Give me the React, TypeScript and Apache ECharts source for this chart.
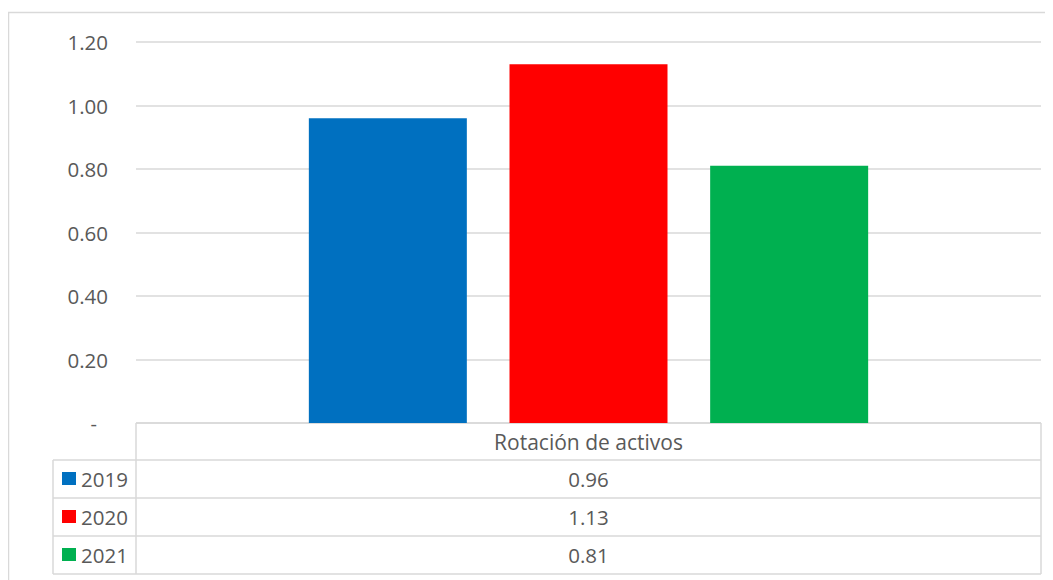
import React, { useEffect, useRef } from "react";
import * as echarts from "echarts";

const categories = ["Rotación de activos"];
const seriesNames = ["2019", "2020", "2021"];
const values2019 = [0.96];
const values2020 = [1.13];
const values2021 = [0.81];
const seriesValues = [values2019, values2020, values2021];
const seriesColors = ["#0070C0", "#FF0000", "#00B050"];
const yMin = 0;
const yMax = 1.2;
const yInterval = 0.2;

const FONT = "Open Sans";
const TEXT = "#595959";
const LINE = "#d9d9d9";

export default function App() {
  const ref = useRef<HTMLDivElement>(null);

  useEffect(() => {
    if (!ref.current) return;
    const chart = echarts.init(ref.current, undefined, { renderer: "svg" });

    const gridLeft = 128;
    const gridRight = 1033;
    const gridTop = 34;
    const gridBottom = 415;
    const legendLeft = 45;
    const rowH = 38;
    const headerH = 37;
    const lineStyle = { stroke: LINE, lineWidth: 1.5 };
    const tableFont = `20.5px "${FONT}"`;

    const graphics: any[] = [];
    graphics.push({
      type: "rect",
      shape: { x: 0.5, y: 4.5, width: 1200, height: 1000 },
      style: { fill: "none", stroke: LINE, lineWidth: 1.5 },
      silent: true,
    });
    const tableBottom = gridBottom + headerH + rowH * seriesNames.length;
    graphics.push({ type: "line", shape: { x1: gridLeft, y1: gridBottom, x2: gridRight, y2: gridBottom }, style: lineStyle });
    for (let i = 0; i <= seriesNames.length; i++) {
      const y = gridBottom + headerH + rowH * i;
      graphics.push({ type: "line", shape: { x1: legendLeft, y1: y, x2: gridRight, y2: y }, style: lineStyle });
    }
    graphics.push({ type: "line", shape: { x1: legendLeft, y1: gridBottom + headerH, x2: legendLeft, y2: tableBottom }, style: lineStyle });
    graphics.push({ type: "line", shape: { x1: gridLeft, y1: gridBottom, x2: gridLeft, y2: tableBottom }, style: lineStyle });
    graphics.push({ type: "line", shape: { x1: gridRight, y1: gridBottom, x2: gridRight, y2: tableBottom }, style: lineStyle });

    const cx = (gridLeft + gridRight) / 2;
    graphics.push({
      type: "text",
      x: cx,
      y: gridBottom + headerH / 2,
      style: { text: categories[0], fill: TEXT, font: `21px "${FONT}"`, align: "center", verticalAlign: "middle" },
    });
    seriesNames.forEach((name, i) => {
      const yc = gridBottom + headerH + rowH * i + rowH / 2;
      graphics.push({
        type: "rect",
        shape: { x: legendLeft + 9, y: yc - 7, width: 14, height: 13 },
        style: { fill: seriesColors[i] },
      });
      graphics.push({
        type: "text",
        x: legendLeft + 28,
        y: yc,
        style: { text: name, fill: TEXT, font: tableFont, align: "left", verticalAlign: "middle" },
      });
      graphics.push({
        type: "text",
        x: cx,
        y: yc,
        style: { text: seriesValues[i][0].toFixed(2), fill: TEXT, font: tableFont, align: "center", verticalAlign: "middle" },
      });
    });

    chart.setOption({
      animation: false,
      backgroundColor: "#ffffff",
      textStyle: { fontFamily: FONT },
      grid: {
        left: gridLeft,
        right: 1045 - gridRight,
        top: gridTop,
        bottom: 572 - gridBottom,
        containLabel: false,
      },
      xAxis: {
        type: "category",
        data: categories,
        axisLine: { show: false },
        axisTick: { show: false },
        axisLabel: { show: false },
      },
      yAxis: {
        type: "value",
        min: yMin,
        max: yMax,
        interval: yInterval,
        axisLine: { show: false },
        axisTick: { show: false },
        splitLine: { lineStyle: { color: LINE, width: 1.5 } },
        axisLabel: {
          color: TEXT,
          fontSize: 20.5,
          fontFamily: FONT,
          margin: 28,
          formatter: (v: number) => (v === 0 ? "{d|-}" : v.toFixed(2)),
          rich: { d: { color: TEXT, fontSize: 20, fontFamily: FONT, padding: [0, 11, 0, 0] } },
        },
      },
      series: seriesNames.map((name, i) => ({
        name,
        type: "bar",
        data: seriesValues[i],
        barWidth: 158,
        barGap: "27%",
        itemStyle: { color: seriesColors[i] },
      })),
      graphic: graphics,
    });

    return () => chart.dispose();
  }, []);

  return <div ref={ref} style={{ width: 1045, height: 572 }} />;
}
